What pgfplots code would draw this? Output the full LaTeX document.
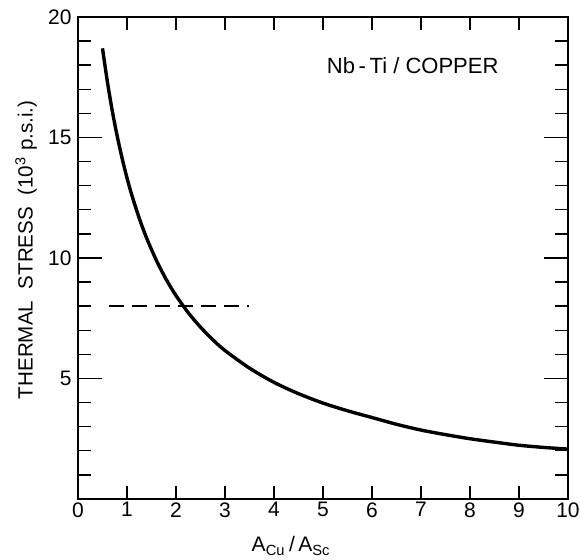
\documentclass[border=0pt]{standalone}
\usepackage{fontspec}
\setmainfont{Liberation Sans}
\usepackage{pgfplots}
\pgfplotsset{compat=1.18}
\usetikzlibrary{calc}
\begin{document}
\begin{tikzpicture}
\begin{axis}[
  scale only axis,
  width=245pt, height=241pt,
  xmin=0, xmax=10, ymin=0, ymax=20,
  axis line style={line width=0.8pt},
  xtick={0,...,10},
  ytick={0,...,20},
  yticklabels={},
  extra y ticks={5,10,15,20},
  extra y tick style={major tick length=12pt},
  tick align=inside,
  major tick length=6.5pt,
  tick style={line width=0.7pt, black},
  /pgf/number format/assume math mode=true,
  tick label style={font=\fontsize{10.5}{12}\selectfont, inner sep=1.5pt},
  yticklabel style={xshift=-1.5pt},
  xlabel={A\textsubscript{Cu}\,/\,A\textsubscript{Sc}},
  xlabel style={at={(axis description cs:0.435,0)}, anchor=center, yshift=-23.5pt, font=\fontsize{10.5}{12}\selectfont},
  clip=false,
]
\addplot[black, line width=1.7pt, smooth] coordinates {
(0.5,18.70) (0.6,17.31) (0.7,16.10) (0.8,15.06) (0.9,14.14) (1.0,13.32)
(1.1,12.60) (1.25,11.65) (1.4,10.83) (1.6,9.90) (1.8,9.11) (2.0,8.44)
(2.25,7.73) (2.5,7.13) (2.75,6.61) (3.0,6.16) (3.5,5.43) (4.0,4.84)
(4.5,4.37) (5.0,3.98) (5.5,3.66) (6.0,3.38) (6.5,3.10) (7.0,2.86)
(7.5,2.67) (8.0,2.50) (8.5,2.36) (9.0,2.23) (9.5,2.14) (10,2.07)
};
\addplot[black, line width=0.8pt, dash pattern=on 7.5pt off 4pt] coordinates {(0.63,8) (3.5,8)};
\node[font=\fontsize{11}{13}\selectfont] at (axis cs:6.83,17.97) {Nb\,-\,Ti / COPPER};
\node[rotate=90, font=\fontsize{10.3}{12}\selectfont] at (axis description cs:-0.106,0.517) {THERMAL \ STRESS \ (10\textsuperscript{3} p.s.i.)};
\end{axis}
\pgfresetboundingbox
\path ($(current axis.south west)+(-39pt,-30.5pt)$) rectangle ($(current axis.north east)+(6pt,8.5pt)$);
\end{tikzpicture}
\end{document}
